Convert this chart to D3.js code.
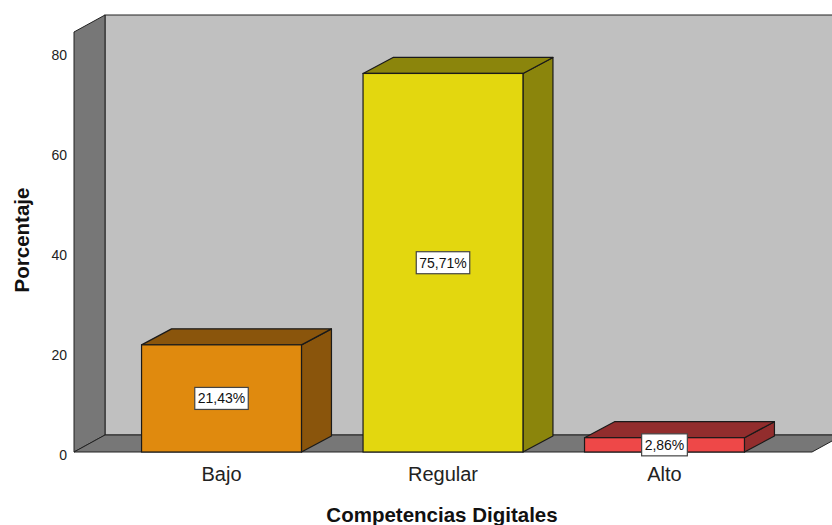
<!DOCTYPE html>
<meta charset="UTF-8">
<script src="https://d3js.org/d3.v7.min.js"></script>
<body style="margin:0;background:#fff">
<div id="chart"></div>
</body>
<script>

// data
var categories = ["Bajo", "Regular", "Alto"];
var values = [21.43, 75.71, 2.86];
var labels = ["21,43%", "75,71%", "2,86%"];
var yTicks = [0, 20, 40, 60, 80];

var frontColors = ["#e08a0e", "#e3d70f", "#ee4848"];
var darkColors = ["#8a550c", "#8b850c", "#922d2d"];

var W = 832, H = 525;
var dx = 31, dy = 17;      // depth offset of the 3d box
var bdx = 30, bdy = 16;    // depth of bars
var left = 74, right = 812, floorY = 452;

var svg = d3.select("#chart").append("svg")
  .attr("width", W).attr("height", H)
  .style("font-family", "'Liberation Sans', Arial, sans-serif");

var x = d3.scaleBand()
  .domain(categories)
  .range([left, right])
  .paddingInner(0.278)
  .paddingOuter(0.305);

var y = d3.scaleLinear()
  .domain([0, 84])
  .range([floorY, floorY - 420]);

var line = d3.line();

// back wall
svg.append("rect")
  .attr("x", left + dx).attr("y", y(84) - dy)
  .attr("width", 900).attr("height", floorY - y(84))
  .attr("fill", "#c0c0c0").attr("stroke", "#222").attr("stroke-width", 1);

// left wall
svg.append("path")
  .attr("d", line([[left, floorY], [left, y(84)], [left + dx, y(84) - dy], [left + dx, floorY - dy]]) + "Z")
  .attr("fill", "#777").attr("stroke", "#222").attr("stroke-width", 1);

// floor
svg.append("path")
  .attr("d", line([[left, floorY], [left + dx, floorY - dy], [right + dx, floorY - dy], [right, floorY]]) + "Z")
  .attr("fill", "#777").attr("stroke", "#222").attr("stroke-width", 1);

// bars
var bars = svg.append("g").selectAll("g")
  .data(values)
  .join("g");

bars.each(function (v, i) {
  var g = d3.select(this);
  var x0 = x(categories[i]), x1 = x0 + x.bandwidth();
  var yt = y(v), yb = y(0);
  // side
  g.append("path")
    .attr("d", line([[x1, yb], [x1, yt], [x1 + bdx, yt - bdy], [x1 + bdx, yb - bdy]]) + "Z")
    .attr("fill", darkColors[i]).attr("stroke", "#1a1a1a").attr("stroke-width", 1.2)
    .attr("stroke-linejoin", "round");
  // top
  g.append("path")
    .attr("d", line([[x0, yt], [x0 + bdx, yt - bdy], [x1 + bdx, yt - bdy], [x1, yt]]) + "Z")
    .attr("fill", darkColors[i]).attr("stroke", "#1a1a1a").attr("stroke-width", 1.2)
    .attr("stroke-linejoin", "round");
  // front
  g.append("rect")
    .attr("x", x0).attr("y", yt)
    .attr("width", x.bandwidth()).attr("height", yb - yt)
    .attr("fill", frontColors[i]).attr("stroke", "#1a1a1a").attr("stroke-width", 1.2);
});

// value labels
bars.each(function (v, i) {
  var g = d3.select(this);
  var cx = x(categories[i]) + x.bandwidth() / 2;
  var cy = (y(v) + y(0)) / 2;
  var t = g.append("text")
    .attr("x", cx).attr("y", cy + 5)
    .attr("text-anchor", "middle")
    .attr("font-size", 14).attr("fill", "#111")
    .text(labels[i]);
  var bb = t.node().getBBox();
  g.insert("rect", "text")
    .attr("x", bb.x - 3).attr("y", cy - 11)
    .attr("width", bb.width + 6).attr("height", 22)
    .attr("fill", "#fff").attr("stroke", "#444").attr("stroke-width", 1.2);
});

// y tick labels
svg.append("g").selectAll("text")
  .data(yTicks)
  .join("text")
  .attr("x", 67).attr("y", d => y(d) + 8)
  .attr("text-anchor", "end")
  .attr("font-size", 14).attr("fill", "#222")
  .text(d => d);

// category labels
svg.append("g").selectAll("text")
  .data(categories)
  .join("text")
  .attr("x", d => x(d) + x.bandwidth() / 2)
  .attr("y", 481)
  .attr("text-anchor", "middle")
  .attr("font-size", 20).attr("fill", "#222")
  .text(d => d);

// axis titles
svg.append("text")
  .attr("x", 442).attr("y", 522)
  .attr("text-anchor", "middle")
  .attr("font-size", 20.5).attr("font-weight", "bold").attr("fill", "#111")
  .text("Competencias Digitales");

svg.append("text")
  .attr("transform", "translate(29,240) rotate(-90)")
  .attr("text-anchor", "middle")
  .attr("font-size", 20.5).attr("font-weight", "bold").attr("fill", "#111")
  .text("Porcentaje");

</script>
